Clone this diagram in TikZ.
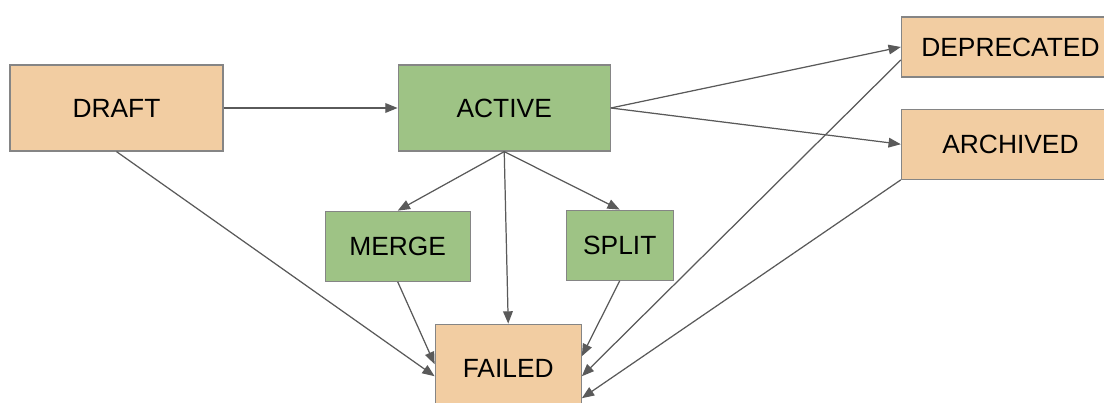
\documentclass[tikz,border=0pt]{standalone}
\usepackage{fontspec}
\setmainfont{Liberation Sans}
\usepackage{xcolor}
\usetikzlibrary{arrows.meta,positioning}
\definecolor{stateorange}{HTML}{F2CDA2}
\definecolor{stategreen}{HTML}{9EC385}
\definecolor{edgegray}{HTML}{5A5A5A}
\definecolor{boxgray}{HTML}{858585}
\tikzset{
  statebox/.style={draw=boxgray, line width=0.7pt, align=center, inner sep=4pt, font=\fontsize{15}{18}\selectfont},
  oldstate/.style={statebox, fill=stateorange},
  livestate/.style={statebox, fill=stategreen},
  statearrow/.style={-{Triangle[length=7pt,width=5.5pt]}, draw=edgegray, fill=edgegray, line width=0.7pt}
}

\begin{document}
\begin{tikzpicture}
  \path[use as bounding box, clip] (0,0) rectangle (22.08,-8.06);

  \node[oldstate, minimum width=4.26cm, minimum height=1.72cm] (draft) at (2.33,-2.16) {DRAFT};
  \node[livestate, minimum width=4.24cm, minimum height=1.72cm, right=3.48cm of draft] (active) {ACTIVE};
  \node[livestate, minimum width=2.9cm, minimum height=1.4cm, below=1.18cm of active, xshift=-2.13cm] (merge) {MERGE};
  \node[livestate, minimum width=2.14cm, minimum height=1.4cm, below=1.16cm of active, xshift=2.31cm] (split) {SPLIT};
  \node[oldstate, minimum width=2.92cm, minimum height=1.76cm, below=3.44cm of active, xshift=0.08cm] (failed) {FAILED};
  \node[oldstate, minimum width=4.36cm, minimum height=1.2cm, right=5.8cm of active, yshift=1.22cm] (deprecated) {DEPRECATED};
  \node[oldstate, minimum width=4.36cm, minimum height=1.4cm, below=0.62cm of deprecated] (archived) {ARCHIVED};

  % main flow
  \draw[statearrow] (draft) -- (active);
  \draw[statearrow] (active.east) -- (deprecated.west);
  \draw[statearrow] (active.east) -- (archived.west);
  \draw[statearrow] (active.south) -- (merge.north);
  \draw[statearrow] (active.south) -- (split.north);
  \draw[statearrow] (active.south) -- (failed.north);

  % everything can fail
  \draw[statearrow] (draft.south) -- ([yshift=-0.16cm]failed.west);
  \draw[statearrow] (merge.south) -- ([yshift=0.08cm]failed.west);
  \draw[statearrow] (split.south) -- ([yshift=0.24cm]failed.east);
  \draw[statearrow] ([yshift=-0.26cm]deprecated.west) -- ([yshift=-0.16cm]failed.east);
  \draw[statearrow] (archived.south west) -- ([yshift=-0.6cm]failed.east);
\end{tikzpicture}
\end{document}
